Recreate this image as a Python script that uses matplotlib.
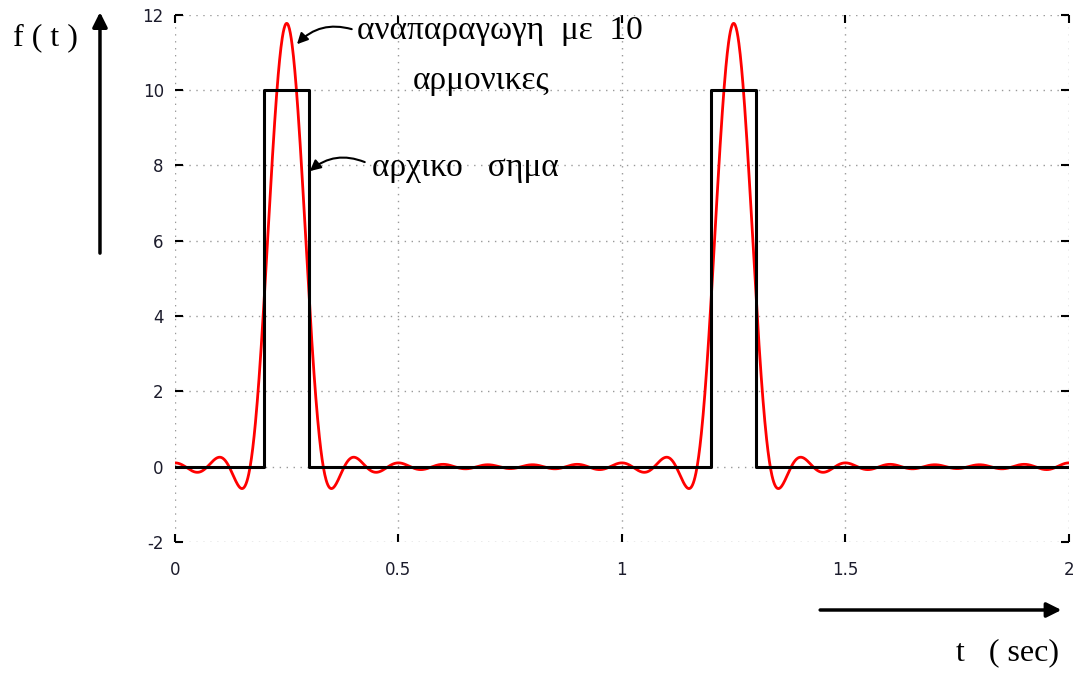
import numpy as np
import matplotlib
matplotlib.use("Agg")
from matplotlib import pyplot as plt

plt.rcParams["axes.unicode_minus"] = False

# square pulse train (original signal)
pulse_t = [0.0, 0.2, 0.2, 0.3, 0.3, 1.2, 1.2, 1.3, 1.3, 2.0]
pulse_f = [0, 0, 10, 10, 0, 0, 10, 10, 0, 0]

# reconstruction with 10 harmonics: dc term + cosine amplitudes around the pulse centre
dc_term = 1.0
harmonic_amps = [1.967, 1.871, 1.717, 1.514, 1.273, 1.009, 0.736, 0.468, 0.219, 0.0]
pulse_centre = 0.25
period = 1.0

x_ticks = [0, 0.5, 1, 1.5, 2]
x_labels = ["0", "0.5", "1", "1.5", "2"]
y_ticks = [-2, 0, 2, 4, 6, 8, 10, 12]

t = np.linspace(0, 2, 2000)
recon = np.full_like(t, dc_term)
for n, a in enumerate(harmonic_amps, start=1):
    recon += a * np.cos(2 * np.pi * n * (t - pulse_centre) / period)

fig = plt.figure(figsize=(10.82, 6.75), dpi=100)
ax = fig.add_axes([0.1617, 0.197, 0.8262, 0.781])

ax.plot(t, recon, color="#ff0000", lw=2.0, zorder=3)
ax.plot(pulse_t, pulse_f, color="black", lw=2.2, zorder=4)

ax.set_xlim(0, 2)
ax.set_ylim(-2, 12)
ax.set_xticks(x_ticks)
ax.set_xticklabels(x_labels)
ax.set_yticks(y_ticks)
for s in ax.spines.values():
    s.set_visible(False)
ax.grid(True, color="#999999", lw=1.0, linestyle=(0, (1, 4)))
ax.tick_params(direction="in", length=6, width=1.5, color="black",
               top=True, right=True, labelsize=12, labelcolor="#1c1c2c", pad=8)
ax.tick_params(axis="x", pad=14)

serif = "Liberation Serif"
ax.text(0.4067, 11.58, "αναπαραγωγη  με  10", fontsize=24, family=serif,
        va="center", ha="left")
ax.text(0.532, 10.25, "αρμονικες", fontsize=24, family=serif, va="center", ha="left")
ax.text(0.44, 7.95, "αρχικο   σημα", fontsize=24, family=serif, va="center", ha="left")

arrow_kw = dict(arrowstyle="-|>", color="black", lw=1.5, mutation_scale=16,
                connectionstyle="arc3,rad=0.3", shrinkA=0, shrinkB=0)
ax.annotate("", xy=(0.273, 11.22), xytext=(0.3955, 11.62), arrowprops=arrow_kw)
ax.annotate("", xy=(0.3017, 7.85), xytext=(0.4246, 8.09), arrowprops=arrow_kw)

# big axis arrows drawn in figure coordinates
big_arrow = dict(arrowstyle="-|>", color="black", lw=2.5, mutation_scale=22,
                 shrinkA=0, shrinkB=0)
fig.add_artist(matplotlib.patches.FancyArrowPatch((0.0924, 0.625), (0.0924, 0.982),
                                                  transform=fig.transFigure, **big_arrow))
fig.add_artist(matplotlib.patches.FancyArrowPatch((0.758, 0.0963), (0.981, 0.0963),
                                                  transform=fig.transFigure, **big_arrow))

fig.text(0.012, 0.944, "f ( t )", fontsize=23, family=serif, va="center", ha="left")
fig.text(0.884, 0.033, "t   ( sec)", fontsize=23, family=serif, va="center", ha="left")

plt.savefig("out.png", dpi=100)
plt.close()
